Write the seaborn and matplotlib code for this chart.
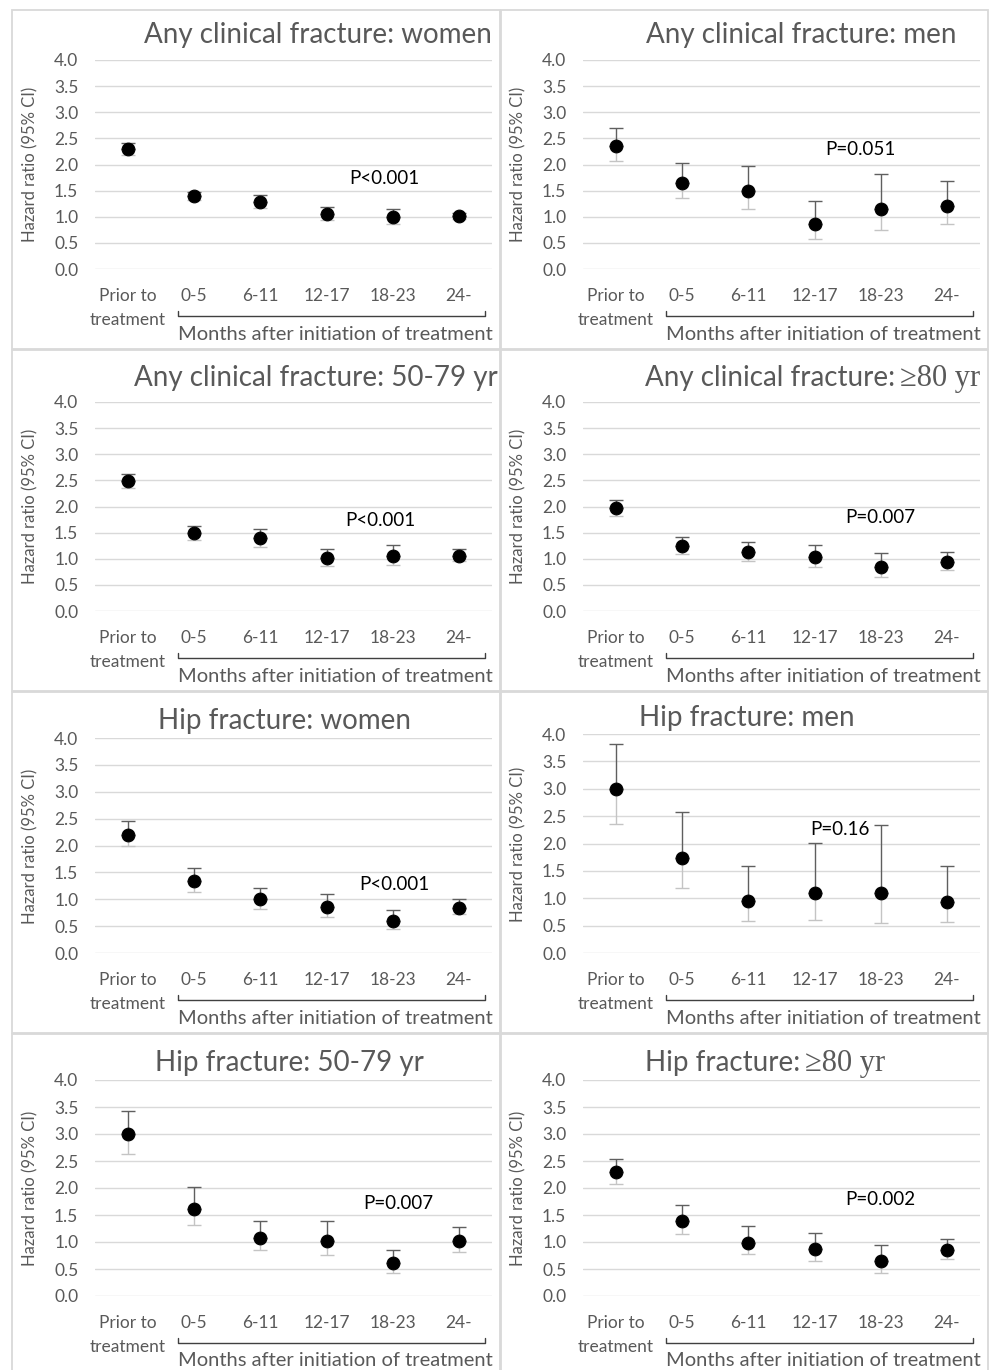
import numpy as np
import pandas as pd
import matplotlib
matplotlib.use("Agg")
import matplotlib.pyplot as plt
import seaborn as sns
from matplotlib.patches import Rectangle
from matplotlib.lines import Line2D
import matplotlib.transforms as mtransforms

# ---------------- data ----------------
categories = ["Prior to\ntreatment", "0-5", "6-11", "12-17", "18-23", "24-"]

any_women_hr = [2.30, 1.40, 1.29, 1.05, 1.00, 1.01]
any_women_lo = [2.19, 1.33, 1.17, 0.93, 0.87, 0.95]
any_women_hi = [2.42, 1.47, 1.42, 1.19, 1.15, 1.07]

any_men_hr = [2.36, 1.65, 1.49, 0.87, 1.15, 1.21]
any_men_lo = [2.06, 1.35, 1.14, 0.58, 0.75, 0.86]
any_men_hi = [2.69, 2.02, 1.98, 1.30, 1.82, 1.68]

any_5079_hr = [2.49, 1.49, 1.39, 1.02, 1.06, 1.06]
any_5079_lo = [2.36, 1.36, 1.23, 0.87, 0.88, 0.95]
any_5079_hi = [2.63, 1.63, 1.57, 1.19, 1.27, 1.18]

any_80_hr = [1.97, 1.25, 1.12, 1.03, 0.85, 0.94]
any_80_lo = [1.82, 1.10, 0.95, 0.84, 0.65, 0.78]
any_80_hi = [2.13, 1.42, 1.32, 1.27, 1.11, 1.13]

hip_women_hr = [2.20, 1.34, 1.00, 0.85, 0.60, 0.84]
hip_women_lo = [1.99, 1.14, 0.82, 0.67, 0.45, 0.73]
hip_women_hi = [2.45, 1.59, 1.21, 1.09, 0.80, 1.01]

hip_men_hr = [2.99, 1.73, 0.95, 1.09, 1.10, 0.94]
hip_men_lo = [2.36, 1.19, 0.58, 0.60, 0.54, 0.56]
hip_men_hi = [3.82, 2.57, 1.59, 2.01, 2.33, 1.58]

hip_5079_hr = [3.00, 1.62, 1.08, 1.02, 0.61, 1.02]
hip_5079_lo = [2.63, 1.31, 0.85, 0.76, 0.42, 0.82]
hip_5079_hi = [3.42, 2.02, 1.38, 1.38, 0.85, 1.27]

hip_80_hr = [2.30, 1.38, 0.99, 0.87, 0.64, 0.85]
hip_80_lo = [2.07, 1.15, 0.77, 0.65, 0.43, 0.69]
hip_80_hi = [2.54, 1.68, 1.29, 1.17, 0.95, 1.05]

p_labels = ["P<0.001", "P=0.051", "P<0.001", "P=0.007",
            "P<0.001", "P=0.16", "P=0.007", "P=0.002"]

y_ticks = [0.0, 0.5, 1.0, 1.5, 2.0, 2.5, 3.0, 3.5, 4.0]

panels = [
    (any_women_hr, any_women_lo, any_women_hi),
    (any_men_hr, any_men_lo, any_men_hi),
    (any_5079_hr, any_5079_lo, any_5079_hi),
    (any_80_hr, any_80_lo, any_80_hi),
    (hip_women_hr, hip_women_lo, hip_women_hi),
    (hip_men_hr, hip_men_lo, hip_men_hi),
    (hip_5079_hr, hip_5079_lo, hip_5079_hi),
    (hip_80_hr, hip_80_lo, hip_80_hi),
]

# titles: (sans part, serif part)
titles = [
    ("Any clinical fracture: women", ""),
    ("Any clinical fracture: men", ""),
    ("Any clinical fracture: 50-79 yr", ""),
    ("Any clinical fracture:", "\u226580 yr"),
    ("Hip fracture: women", ""),
    ("Hip fracture: men", ""),
    ("Hip fracture: 50-79 yr", ""),
    ("Hip fracture:", "\u226580 yr"),
]

# ---------------- layout (pixels) ----------------
W, H = 991, 1370
axes_px = [(95, 60, 492, 269), (583, 60, 980, 269),
           (95, 402, 492, 611), (583, 402, 980, 611),
           (95, 738, 492, 953), (583, 734, 980, 953),
           (95, 1080, 492, 1296), (583, 1080, 980, 1296)]
# title: x (center, or split point for mixed fonts), baseline y
title_pos = [(318, 43), (801, 43), (316, 386), (897, 386),
             (284, 729), (747, 726), (289, 1071), (802, 1071)]
# p-value annotation positions (data coords)
p_pos = [(3.87, 1.74), (3.69, 2.28), (3.81, 1.74), (4.0, 1.78),
         (4.03, 1.27), (3.38, 2.25), (4.09, 1.72), (3.99, 1.78)]
borders = [(12, 10, 500, 349), (501, 10, 988, 349),
           (12, 350, 500, 691), (501, 350, 988, 691),
           (12, 692, 500, 1033), (501, 692, 988, 1033),
           (12, 1034, 500, 1372), (501, 1034, 988, 1372)]

sns.set_theme(style="white")
plt.rcParams["font.family"] = ["Lato", "DejaVu Sans"]

GRAY = "#595959"
fig = plt.figure(figsize=(W / 100, H / 100), dpi=100)
fig.patch.set_facecolor("white")

for (x0, y0, x1, y1) in borders:
    fig.add_artist(Rectangle((x0 / W, 1 - y1 / H), (x1 - x0) / W, (y1 - y0) / H,
                             transform=fig.transFigure, fill=False,
                             edgecolor="#d9d9d9", lw=1.3))

TICK_FS = 12.5
YLAB_FS = 12.0
XLAB_FS = 14.5
P_FS = 13.5
TITLE_FS = 20

for i, ((hr, lo, hi), (ax0, ay0, ax1, ay1)) in enumerate(zip(panels, axes_px)):
    ax = fig.add_axes([ax0 / W, 1 - ay1 / H, (ax1 - ax0) / W, (ay1 - ay0) / H])
    ax.set_facecolor("white")
    df = pd.DataFrame({"cat": categories, "hr": hr, "lo": lo, "hi": hi})
    xs = np.arange(len(categories))
    hr_a = df["hr"].to_numpy()
    lo_a = df["lo"].to_numpy()
    hi_a = df["hi"].to_numpy()
    zeros = np.zeros_like(hr_a)
    ax.errorbar(xs, hr_a, yerr=[hr_a - lo_a, zeros], fmt="none",
                ecolor="#c4c4c4", elinewidth=1.0, capsize=5, capthick=1.0, zorder=2)
    ax.errorbar(xs, hr_a, yerr=[zeros, hi_a - hr_a], fmt="none",
                ecolor="#5f5f5f", elinewidth=1.0, capsize=5, capthick=1.0, zorder=2)
    sns.scatterplot(data=df, x="cat", y="hr", ax=ax, color="black",
                    edgecolor="black", s=85, zorder=3, legend=False)
    ax.set_xlim(-0.5, len(categories) - 0.5)
    ax.set_ylim(0, 4)
    ax.set_yticks(y_ticks)
    ax.set_yticklabels([f"{v:.1f}" for v in y_ticks])
    ax.set_xticks(xs)
    ax.set_xticklabels(categories)
    for lab in ax.get_xticklabels():
        lab.set_linespacing(1.55)
    ax.tick_params(axis="y", length=0, pad=12, labelsize=TICK_FS, labelcolor=GRAY)
    ax.tick_params(axis="x", length=0, pad=14, labelsize=TICK_FS, labelcolor=GRAY)
    ax.yaxis.grid(True, color="#d9d9d9", lw=1.0)
    ax.xaxis.grid(False)
    ax.set_axisbelow(True)
    for s in ax.spines.values():
        s.set_visible(False)
    ax.set_xlabel("")
    ax.set_ylabel("")
    h_px = ay1 - ay0
    w_px = ax1 - ax0
    # y label (placed on whole pixels)
    yc = round((ay0 + ay1) / 2)
    fig.text((ax0 - 65) / W, 1 - yc / H, "Hazard ratio (95% CI)",
             rotation=90, ha="center", va="center", fontsize=YLAB_FS, color=GRAY)
    # bracket
    trans = mtransforms.blended_transform_factory(ax.transData, ax.transAxes)
    yb = -47 / h_px
    yt = -42 / h_px
    xl, xr = 0.75, 5.39
    ax.add_line(Line2D([xl, xl, xr, xr], [yt, yb, yb, yt], transform=trans,
                       color="#404040", lw=1.0, clip_on=False))
    ax.text(240.5 / w_px, -65 / h_px, "Months after initiation of treatment",
            transform=ax.transAxes, ha="center", va="center",
            fontsize=XLAB_FS, color=GRAY, clip_on=False)
    # p value
    px, py = p_pos[i]
    ax.text(px, py, p_labels[i], ha="center", va="center", fontsize=P_FS,
            color="black")

# titles
for (sans, serif), (tx, ty) in zip(titles, title_pos):
    if serif:
        fig.text((tx - 2) / W, 1 - ty / H, sans, ha="right", va="baseline",
                 fontsize=TITLE_FS, color=GRAY)
        fig.text((tx + 3) / W, 1 - ty / H, serif, ha="left", va="baseline",
                 fontsize=TITLE_FS + 2, color=GRAY,
                 family=["Liberation Serif", "DejaVu Serif"])
    else:
        fig.text(tx / W, 1 - ty / H, sans, ha="center", va="baseline",
                 fontsize=TITLE_FS, color=GRAY)

fig.savefig("out.png", dpi=100, facecolor="white")
